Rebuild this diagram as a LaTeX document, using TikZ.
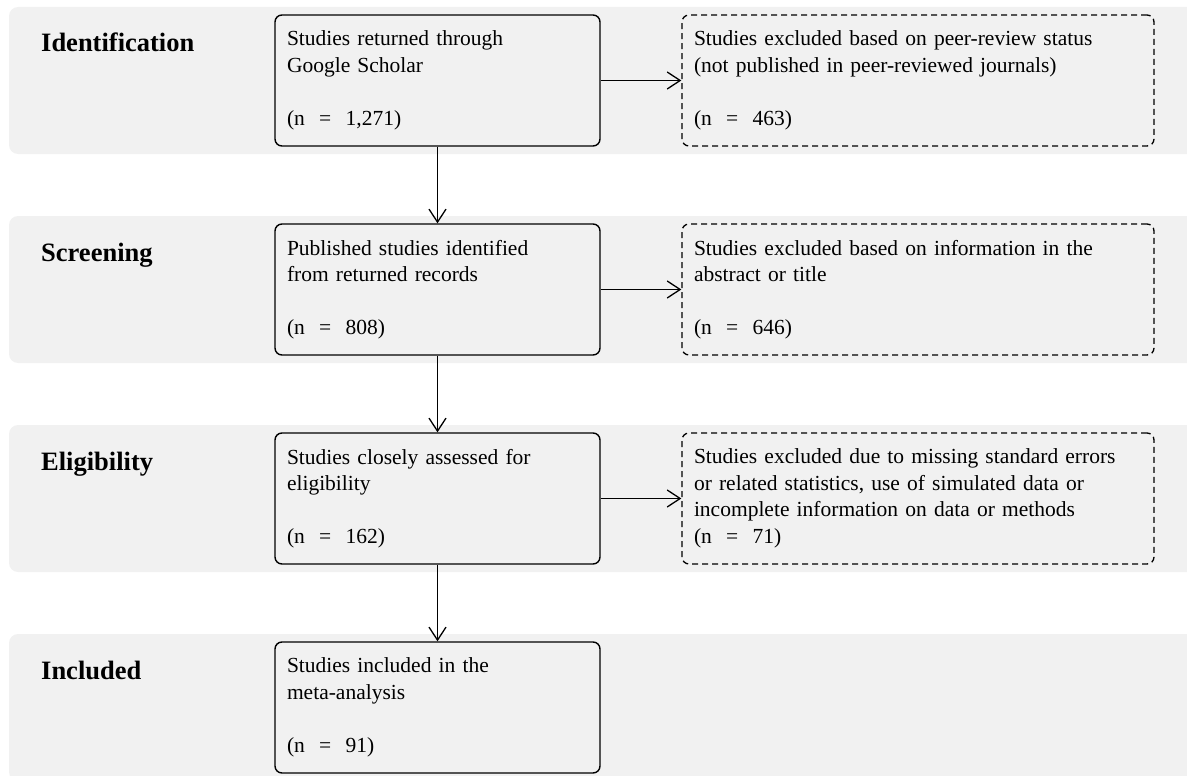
\documentclass[tikz,border=0pt]{standalone}
\usepackage{fontspec}
\setmainfont{Liberation Serif}
\usetikzlibrary{arrows.meta}
\definecolor{bandgrey}{HTML}{F1F1F1}
\tikzset{
  band/.style={fill=bandgrey, rounded corners=9pt},
  mainbox/.style={draw=black, line width=1.4pt, fill=bandgrey, rounded corners=7pt,
    minimum width=325pt, minimum height=131pt, text width=301pt, inner xsep=12pt,
    align=left, font=\fontsize{21.5}{26.5}\selectfont},
  exclbox/.style={mainbox, dashed, dash pattern=on 6pt off 4pt, line width=1.3pt,
    minimum width=472pt, text width=448pt},
  stage/.style={anchor=base west, inner sep=0pt, font=\fontsize{26.5}{30}\selectfont\bfseries},
  arr/.style={line width=1.3pt, -{Straight Barb[length=13pt,width=17pt,line width=1.3pt]}}
}
\begin{document}
\begin{tikzpicture}[x=1pt,y=1pt]
\useasboundingbox (0,0) rectangle (1187,-776);
% bands
\foreach \k in {0,1,2,3}{
  \fill[band] (9,{-7-209*\k}) rectangle (1200,{-154-209*\k});
}
% stage labels
\node[stage] (l1) at (41,-52) {Identification};
\node[stage] (l2) at (41,-261) {Screening};
\node[stage] (l3) at (41,-470) {Eligibility};
\node[stage] (l4) at (41,-679) {Included};
% main boxes
\node[mainbox] (b1) at (437.5,-80.5) {Studies returned through\\Google Scholar\\[26.5pt](n~~=~~1,271)};
\node[mainbox] (b2) at (437.5,-289.5) {Published studies identified\\from returned records\\[26.5pt](n~~=~~808)};
\node[mainbox] (b3) at (437.5,-498.5) {Studies closely assessed for\\eligibility\\[26.5pt](n~~=~~162)};
\node[mainbox] (b4) at (437.5,-707.5) {Studies included in the\\meta-analysis\\[26.5pt](n~~=~~91)};
% excluded boxes
\node[exclbox] (e1) at (918,-80.5) {Studies excluded based on peer-review status\\(not published in peer-reviewed journals)\\[26.5pt](n~~=~~463)};
\node[exclbox] (e2) at (918,-289.5) {Studies excluded based on information in the\\abstract or title\\[26.5pt](n~~=~~646)};
\node[exclbox] (e3) at (918,-498.5) {Studies excluded due to missing standard errors\\or related statistics, use of simulated data or\\incomplete information on data or methods\\(n~~=~~71)};
% connectors
\draw[arr] (b1.east) -- (e1.west);
\draw[arr] (b2.east) -- (e2.west);
\draw[arr] (b3.east) -- (e3.west);
\draw[arr] (b1.south) -- (b2.north);
\draw[arr] (b2.south) -- (b3.north);
\draw[arr] (b3.south) -- (b4.north);
\end{tikzpicture}
\end{document}
